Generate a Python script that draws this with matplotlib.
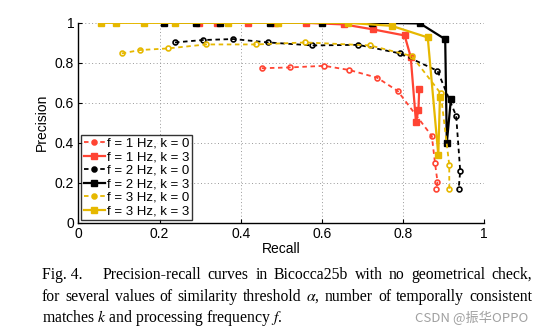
import numpy as np
import matplotlib
matplotlib.use('Agg')
import matplotlib.pyplot as plt

# precision-recall samples per configuration (f = frequency in Hz, k = consistent matches)
rec_f1_k0 = [0.452, 0.521, 0.606, 0.668, 0.737, 0.787, 0.871, 0.879, 0.885, 0.882]
pre_f1_k0 = [0.773, 0.777, 0.785, 0.764, 0.725, 0.659, 0.434, 0.297, 0.205, 0.167]

rec_f1_k3 = [0.298, 0.341, 0.419, 0.485, 0.561, 0.655, 0.727, 0.804, 0.819, 0.832, 0.838, 0.840]
pre_f1_k3 = [1.0, 1.0, 1.0, 1.0, 1.0, 0.992, 0.967, 0.937, 0.830, 0.503, 0.564, 0.667]

rec_f2_k0 = [0.238, 0.306, 0.382, 0.468, 0.577, 0.690, 0.793, 0.885, 0.931, 0.941, 0.937]
pre_f2_k0 = [0.902, 0.914, 0.919, 0.902, 0.887, 0.890, 0.847, 0.760, 0.535, 0.259, 0.167]

rec_f2_k3 = [0.212, 0.290, 0.349, 0.472, 0.601, 0.723, 0.842, 0.904, 0.908, 0.918]
pre_f2_k3 = [1.0, 1.0, 1.0, 1.0, 1.0, 1.0, 0.997, 0.918, 0.400, 0.617]

rec_f3_k0 = [0.107, 0.152, 0.221, 0.315, 0.438, 0.559, 0.719, 0.822, 0.893, 0.914, 0.914]
pre_f3_k0 = [0.847, 0.864, 0.872, 0.892, 0.892, 0.902, 0.887, 0.834, 0.647, 0.289, 0.167]

rec_f3_k3 = [0.057, 0.094, 0.162, 0.238, 0.369, 0.493, 0.665, 0.772, 0.861, 0.887, 0.891]
pre_f3_k3 = [1.0, 1.0, 1.0, 1.0, 1.0, 1.0, 1.0, 0.985, 0.927, 0.339, 0.628]

ticks = [0, 0.2, 0.4, 0.6, 0.8, 1]
tick_labels = ['0', '0.2', '0.4', '0.6', '0.8', '1']

red = '#ff4433'
yel = '#e6b800'
blk = '#000000'

caption = [
    ['Fig. 4.', 'Precision-recall', 'curves', 'in', 'Bicocca25b', 'with', 'no',
     'geometrical', 'check,'],
    ['for', 'several', 'values', 'of', 'similarity', 'threshold', r'$\alpha$,', 'number',
     'of', 'temporally', 'consistent'],
    ['matches $k$ and processing frequency $f$.'],
]

plt.rcParams['font.family'] = ['Liberation Sans', 'DejaVu Sans']
plt.rcParams['mathtext.fontset'] = 'stix'

fig = plt.figure(figsize=(5.44, 3.36), dpi=100)
ax = fig.add_axes([0.144, 0.337, 0.746, 0.595])

dash = (0, (2.5, 2.0))
ax.plot(rec_f1_k0, pre_f1_k0, color=red, ls=dash, lw=1.3, marker='o', ms=3.5,
        mfc='none', mew=1.2, label='f = 1 Hz, k = 0')
ax.plot(rec_f1_k3, pre_f1_k3, color=red, ls='-', lw=1.6, marker='s', ms=4,
        label='f = 1 Hz, k = 3')
ax.plot(rec_f2_k0, pre_f2_k0, color=blk, ls=dash, lw=1.3, marker='o', ms=3.5,
        mfc='none', mew=1.2, label='f = 2 Hz, k = 0')
ax.plot(rec_f2_k3, pre_f2_k3, color=blk, ls='-', lw=1.6, marker='s', ms=4,
        label='f = 2 Hz, k = 3')
ax.plot(rec_f3_k0, pre_f3_k0, color=yel, ls=dash, lw=1.3, marker='o', ms=3.5,
        mfc='none', mew=1.2, label='f = 3 Hz, k = 0')
ax.plot(rec_f3_k3, pre_f3_k3, color=yel, ls='-', lw=1.6, marker='s', ms=4,
        label='f = 3 Hz, k = 3')

ax.set_xlim(0, 1)
ax.set_ylim(0, 1)
ax.set_xticks(ticks)
ax.set_xticklabels(tick_labels)
ax.set_yticks(ticks)
ax.set_yticklabels(tick_labels)
ax.tick_params(direction='in', length=3, width=0.8, labelsize=10, pad=3)
ax.grid(True, ls=(0, (1, 2.5)), color='#999999', lw=0.7)
ax.spines['top'].set_visible(False)
ax.spines['right'].set_visible(False)
ax.spines['left'].set_linewidth(1.0)
ax.spines['bottom'].set_linewidth(1.0)
ax.set_xlabel('Recall', fontsize=10, labelpad=1)
ax.set_ylabel('Precision', fontsize=10, labelpad=4)

leg = ax.legend(loc='lower left', fontsize=9.5, frameon=True, fancybox=False,
                handlelength=1.6, handletextpad=0.2, borderpad=0.2,
                labelspacing=0.1, borderaxespad=0.2)
leg.get_frame().set_edgecolor('black')
leg.get_frame().set_linewidth(1.0)
for h in leg.legend_handles:
    h.set_markerfacecolor(h.get_color())

# caption: first two lines justified between the margins
renderer = fig.canvas.get_renderer()
left_px, right_px = 42, 532
baseline_px = [279, 301, 322]
for i, words in enumerate(caption):
    y = 1 - baseline_px[i] / 336
    arts = [fig.text(0, y, w, fontsize=11.3, family='Liberation Serif', va='baseline')
            for w in words]
    if len(words) == 1:
        arts[0].set_x(left_px / 544)
        continue
    widths = [a.get_window_extent(renderer).width for a in arts]
    extra = 14 if i == 0 else 0
    gap = (right_px - left_px - sum(widths) - extra) / (len(words) - 1)
    x = left_px
    for j, (a, w) in enumerate(zip(arts, widths)):
        a.set_x(x / 544)
        x += w + gap + (extra if j == 0 else 0)

fig.text(528 / 544, 1 - 318 / 336, 'CSDN @振华OPPO', fontsize=9.5, color='#a0a0a0',
         ha='right', va='center', family=['Noto Sans CJK SC', 'DejaVu Sans'])

fig.savefig('out.png', dpi=100)
